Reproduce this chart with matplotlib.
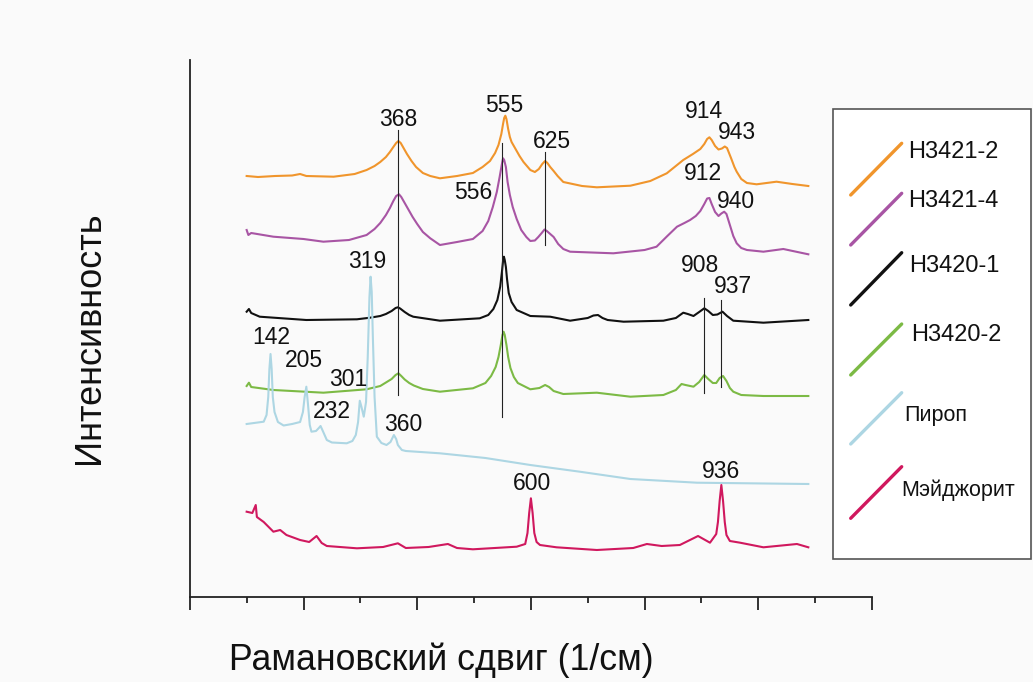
import matplotlib
matplotlib.use("Agg")
import matplotlib.pyplot as plt
from matplotlib.ticker import MultipleLocator, NullFormatter

plt.rcParams['font.family'] = ['Liberation Sans', 'DejaVu Sans']

# ---------------- data ----------------
names = ["H3421-2", "H3421-4", "H3420-1", "H3420-2", "Пироп", "Мэйджорит"]
colors = ["#F0952C", "#A855A4", "#111111", "#7CBA45", "#ADD6E3", "#D0185E"]

orange_x = [100, 120, 150, 180, 194, 205, 253, 290, 311, 325, 335, 345, 352, 358, 363, 367, 371, 376, 382, 390,
            398, 410, 423, 440, 470, 498, 515, 528, 537, 543, 548, 551, 553, 555, 557, 560, 563, 566, 572, 580,
            587, 599, 607, 614, 620, 625, 629, 634, 640, 647, 657, 690, 716, 775, 810, 839, 868, 885, 898, 905,
            910, 914, 918, 924, 930, 936, 941, 945, 952, 958, 962, 970, 980, 997, 1032, 1060, 1088]
orange_y = [421, 420, 421, 421.5, 423, 421, 420.3, 423, 427, 431, 435, 440, 445, 450, 454, 456, 454, 449, 443, 436,
            430, 424, 421, 418.7, 421, 424, 430, 436, 444, 452, 463, 473, 479, 481.3, 478, 468, 460, 455, 449, 441,
            435, 427, 425, 428, 433, 436, 434, 430, 426, 421, 415, 411, 409.7, 411.3, 416, 423.7, 437, 443, 448, 453,
            458, 459.7, 457, 451, 447.5, 448.5, 450.5, 449, 439, 430, 425.3, 418, 414, 412.7, 415.3, 413, 411]

purple_x = [100, 103, 108, 147, 200, 235, 280, 311, 325, 335, 345, 352, 358, 363, 368, 372, 377, 384, 392, 400,
            410, 423, 440, 470, 498, 515, 525, 533, 540, 545, 549, 551, 553, 556, 559, 563, 568, 575, 583, 592,
            599, 607, 613, 619, 624, 628, 634, 640, 648, 657, 669, 745, 800, 821, 840, 857, 870, 880, 890, 898,
            905, 910, 914, 918, 924, 930, 935, 940, 944, 950, 956, 962, 970, 980, 1009, 1044, 1088]
purple_y = [367, 362, 364, 360.3, 358, 355.3, 357, 362, 368, 374, 382, 389, 396, 401, 402.7, 400, 395, 388, 380, 373,
            365, 358.7, 352, 355, 358, 366, 376, 390, 405, 420, 433, 438.7, 437, 430, 415, 402, 390, 378, 367, 360,
            356, 356.5, 360, 364, 367.5, 366, 363, 360, 353, 348, 345.3, 343.7, 347, 350.3, 361, 370.3, 374, 377, 381, 386,
            393, 398.5, 399, 393, 385, 381, 383.5, 385.3, 383, 372, 361, 353.7, 349, 347, 345.3, 348, 342.7]

black_x = [100, 104, 108, 112, 123, 205, 294, 317, 335, 345, 355, 362, 366, 370, 378, 386, 393, 440, 510, 525,
           534, 541, 546, 549, 551, 552.5, 554, 556, 558, 561, 566, 575, 599, 634, 669, 700, 710, 718, 726, 735,
           763, 833, 855, 868, 876, 886, 896, 905, 912, 920, 928, 937, 945, 956, 1009, 1088]
black_y = [285.3, 288, 284, 283, 280.3, 277, 277.7, 279.3, 281, 283, 286, 289, 289.7, 288.5, 285, 282, 280.3, 276.3, 278.7, 282,
           288, 297, 310.3, 325, 336, 340.3, 337, 330, 318, 304, 295, 287, 281, 280.3, 276.3, 279, 281.5, 282, 279, 277,
           275.3, 276.3, 279, 284.3, 283, 281, 285, 288.7, 286, 282, 282.5, 285.3, 281, 276.3, 274.3, 277]

green_x = [100, 104, 108, 147, 235, 311, 335, 345, 355, 362, 367, 372, 378, 386, 394, 410, 440, 498, 520, 530,
           538, 543, 547, 550, 552, 554, 557, 560, 564, 570, 577, 599, 615, 625, 632, 640, 657, 716, 775, 833,
           855, 865, 872, 886, 896, 905, 912, 920, 926, 932, 938, 944, 950, 956, 970, 1009, 1088]
green_y = [211, 214.3, 210, 207, 204.3, 207.7, 211, 214.5, 218, 222, 223.7, 221, 217.5, 214, 211.5, 208, 205.3, 208.7, 214, 221,
           230, 240, 252, 262, 265.3, 262, 252, 240, 229, 220, 214, 207.7, 209, 212, 210, 206, 203, 204.3, 200.3, 202,
           207, 213, 212, 210.3, 215, 222, 218, 214, 214, 219, 221, 216, 209, 205.3, 202, 201, 201]

pyrope_x = [100, 130, 135, 138, 140, 142, 144, 146, 149, 155, 165, 180, 194, 199, 202, 205, 208, 211, 214, 222,
            227, 230, 234, 241, 250, 276, 286, 292, 296, 299, 302, 306, 310, 313, 316, 318, 320, 322, 325, 329,
            337, 346, 353, 359, 363, 366, 373, 380, 440, 520, 599, 686, 775, 892, 1088]
pyrope_y = [173, 175.3, 182, 200, 228, 243, 228, 200, 185, 175, 171.5, 173, 175, 185, 200, 210.3, 192, 172, 165.3, 166,
            169, 171, 166, 157, 154.5, 153.7, 156, 162, 175, 196.3, 190, 180.3, 195, 240, 300, 320.3, 305, 260, 200, 160.3,
            154, 152, 155, 162, 158, 152, 147, 146, 143.7, 139, 132, 125.3, 118, 114.3, 113]

major_x = [100, 110, 116, 118, 130, 147, 159, 170, 194, 210, 223, 232, 241, 294, 340, 366, 380, 420, 454, 470,
           498, 575, 590, 594, 597, 600, 603, 606, 610, 616, 645, 716, 780, 804, 830, 862, 894, 915, 926, 929,
           932, 935, 938, 941, 944, 950, 968, 1009, 1068, 1088]
major_y = [85.3, 84, 92, 80, 75, 65.3, 67, 62, 57, 55, 61, 54, 51, 48.7, 50, 53.7, 49, 50, 53, 49,
           47.7, 50.3, 53, 64, 84, 98.7, 84, 64, 55, 52, 49.7, 47, 49, 53, 51, 52, 61, 54.3, 63, 75,
           96, 112, 96, 75, 62, 56, 54.3, 49.7, 53, 49.7]

series_x = [orange_x, purple_x, black_x, green_x, pyrope_x, major_x]
series_y = [orange_y, purple_y, black_y, green_y, pyrope_y, major_y]

peak_labels = ["368", "555", "556", "625", "914", "943", "912", "940", "319", "142", "205", "301",
               "232", "360", "908", "937", "600", "936"]

# marker lines: wavenumber, top, bottom
vline_x = [366, 550, 625, 904, 935]
vline_top = [467, 454, 445.3, 298.7, 297]
vline_bot = [202, 180, 352, 203.7, 210.3]

# ---------------- layout ----------------
W, H = 1033, 682
fig = plt.figure(figsize=(W / 100, H / 100), dpi=100, facecolor="#fafafa")

ax_l, ax_r, ax_t, ax_b = 189.8, 872, 60, 597
ax = fig.add_axes([ax_l / W, 1 - ax_b / H, (ax_r - ax_l) / W, (ax_b - ax_t) / H])
ax.set_facecolor("none")
ax.set_xlim(0, 1200)
ax.set_ylim(0, 537)

for xs, ys, c in zip(series_x, series_y, colors):
    ax.plot(xs, ys, color=c, lw=1.5, solid_joinstyle="round")

for x, t, b in zip(vline_x, vline_top, vline_bot):
    ax.plot([x, x], [b, t], color="#222222", lw=0.8)

label_pos = [(366, 477.5), (553, 491), (499, 404.3), (637, 456), (905, 485.3), (963, 464.7),
             (903, 424), (960, 396), (312, 335), (142.5, 259), (201, 236.3), (279, 217),
             (250, 185), (375.5, 172.3), (897, 331.7), (956, 310.3), (602, 113), (934, 125.3)]
for txt, (x, y) in zip(peak_labels, label_pos):
    ax.text(x, y, txt, ha="center", va="center", fontsize=16.5, color="#111111")

for side in ["top", "right"]:
    ax.spines[side].set_visible(False)
for side in ["left", "bottom"]:
    ax.spines[side].set_linewidth(1.3)
    ax.spines[side].set_color("#222222")
ax.xaxis.set_major_locator(MultipleLocator(200))
ax.xaxis.set_minor_locator(MultipleLocator(100))
ax.xaxis.set_major_formatter(NullFormatter())
ax.tick_params(axis="x", which="major", direction="out", length=9, width=1.3, color="#222222")
ax.tick_params(axis="x", which="minor", direction="out", length=4.5, width=1.3, color="#222222")
ax.set_yticks([])

# overlay in pixel coordinates for titles and legend
ov = fig.add_axes([0, 0, 1, 1])
ov.set_xlim(0, W)
ov.set_ylim(H, 0)
ov.axis("off")
ov.set_facecolor("none")

ov.text(441, 660, "Рамановский сдвиг (1/см)", ha="center", va="center", fontsize=25.7, color="#111111")
ov.text(89, 338, "Интенсивность", ha="center", va="center", rotation=90, fontsize=26, color="#111111")

ov.add_patch(plt.Rectangle((833, 109), 198, 450, facecolor="white", edgecolor="#555555", lw=1.2))
leg_lines = [((850.7, 195), (901.7, 143.3)), ((850.7, 245), (901.7, 193.3)), ((850.7, 305), (901.7, 252.7)),
             ((850.7, 375), (901.7, 324)), ((850.7, 444), (901.7, 392.7)), ((850.7, 518.3), (901.7, 466.7))]
leg_text = [(908.3, 151.7, 17), (908.3, 200.7, 17), (909.3, 266, 17), (910.7, 335, 17), (904, 415, 15.5), (901.7, 490, 15.5)]
for name, c, (p0, p1), (tx, ty, fs) in zip(names, colors, leg_lines, leg_text):
    ov.plot([p0[0], p1[0]], [p0[1], p1[1]], color=c, lw=2.4, solid_capstyle="round")
    ov.text(tx, ty, name, ha="left", va="center", fontsize=fs, color="#111111")

fig.savefig("out.png", dpi=100, facecolor=fig.get_facecolor())
